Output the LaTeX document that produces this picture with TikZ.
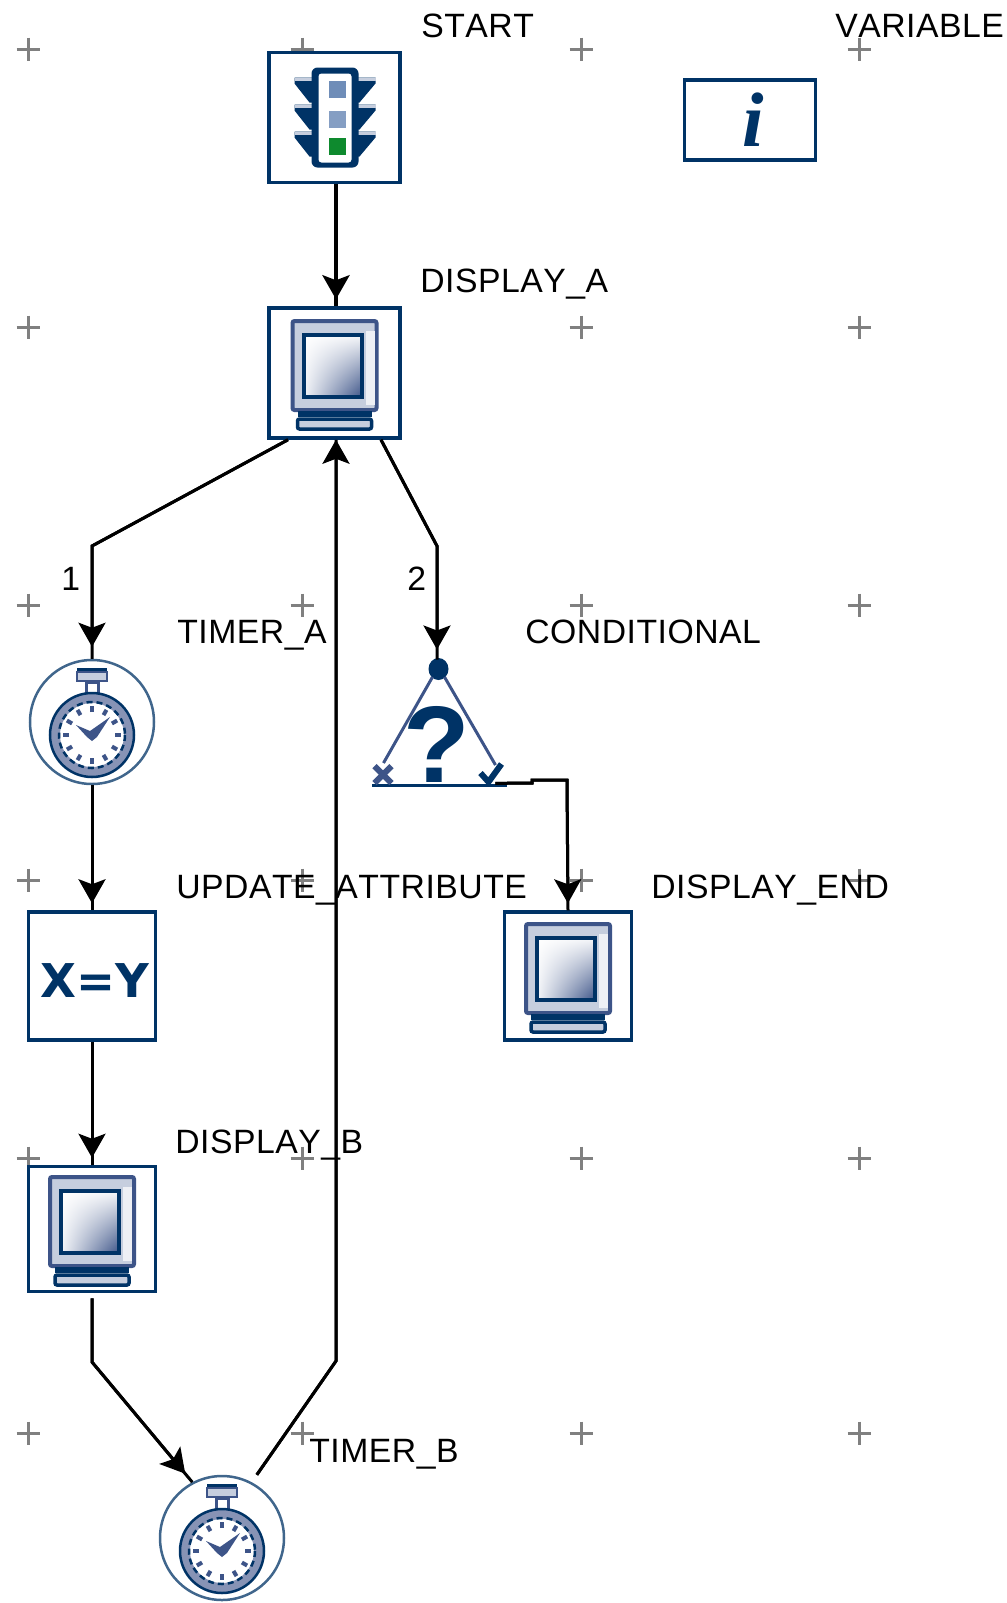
\documentclass[tikz,border=0pt]{standalone}
\usepackage{fontspec}
\setmainfont[LetterSpace=1.5,Kerning=Off]{Liberation Sans}
\newfontfamily\wideface{DejaVu Sans}
\newfontfamily\iface{Liberation Serif}
\usetikzlibrary{arrows.meta,shadings}
\def\pxu{0.02cm}
\definecolor{navy}{HTML}{003366}
\definecolor{slateblue}{HTML}{3D5488}
\definecolor{hazeblue}{HTML}{C6CEDE}
\definecolor{steelring}{HTML}{8793B5}
\definecolor{gridgray}{HTML}{808080}
\definecolor{lampblue}{HTML}{6F8DB8}
\definecolor{lampgreen}{HTML}{0E8A2E}
\tikzset{
  iconbox/.style={draw=navy,fill=white,line width=3.5*\pxu,minimum width=127*\pxu,minimum height=128*\pxu,inner sep=0pt},
  timerdisc/.style={circle,draw=navy!75,fill=white,line width=2.5*\pxu,minimum size=124*\pxu,inner sep=0pt},
  tag/.style={anchor=base west,inner sep=0pt,font=\fontsize{19.2}{20}\selectfont},
  gridplus/.style={gridgray,line width=3*\pxu},
  plainlink/.style={line width=3*\pxu},
  link/.style={plainlink,postaction={draw,-{Stealth[length=24*\pxu,width=27*\pxu,inset=5*\pxu]},shorten >=#1*\pxu}},
  link/.default=7,
  pics/monitor/.style={code={
    \draw[slateblue,fill=hazeblue,line width=4*\pxu,rounded corners=2*\pxu] (-42,-52) rectangle (42,37);
    \fill[white!70!hazeblue] (31,-42) rectangle (40,32);
    \shade[upper left=white,upper right=white!85!hazeblue,lower left=white!80!hazeblue,lower right=slateblue]
      (-31,-38) rectangle (27,24);
    \draw[navy,line width=4*\pxu] (-31,-38) rectangle (27,24);
    \fill[navy] (-37,38) rectangle (37,44);
    \draw[navy,fill=hazeblue,line width=3.5*\pxu,rounded corners=2*\pxu] (-37,46) rectangle (37,56);
  }},
  pics/signal/.style={code={
    \foreach \vy in {-40,-13,14}{
      \fill[navy] (-40,\vy) -- (-17,\vy) -- (-17,\vy+25) -- (-25,\vy+25) -- (-40,\vy+6) -- cycle;
      \fill[navy] (41,\vy) -- (17,\vy) -- (17,\vy+25) -- (25,\vy+25) -- (41,\vy+6) -- cycle;
      \fill[hazeblue] (-40,\vy) rectangle (-18,\vy+3);
      \fill[hazeblue] (41,\vy) rectangle (18,\vy+3);
    }
    \fill[navy,rounded corners=6*\pxu] (-23,-50) rectangle (24,50);
    \fill[white,rounded corners=3*\pxu] (-16,-44) rectangle (17,45);
    \fill[lampblue] (-6,-37) rectangle (11,-20);
    \fill[lampblue!85] (-6,-7) rectangle (11,10);
    \fill[lampgreen] (-6,20) rectangle (11,37);
  }},
  pics/stopwatch/.style={code={
    \fill[navy] (-15,-54) rectangle (15,-50);
    \fill[hazeblue] (-15,-50) rectangle (15,-41);
    \draw[slateblue,line width=2*\pxu] (-15,-50) rectangle (15,-41);
    \draw[slateblue,line width=3*\pxu] (-6,-40) rectangle (6,-28);
    \draw[steelring,line width=10*\pxu,fill=white] (0,13) circle[radius=37];
    \draw[navy,line width=2.5*\pxu] (0,13) circle[radius=42];
    \draw[navy,line width=2.5*\pxu,dash pattern=on 6*\pxu off 4*\pxu] (0,13) circle[radius=33];
    \foreach \ang in {0,30,...,330}{
      \draw[slateblue,line width=4*\pxu] ([shift={(\ang:23)}]0,13) -- ([shift={(\ang:29)}]0,13);
    }
    \fill[slateblue] (-16,3) -- (-2,9) -- (18,-5) -- (5,15) -- (0,19) -- (-5,15) -- cycle;
  }},
  pics/query/.style={code={
    \fill[navy] (0,-54) ellipse[x radius=10,y radius=11];
    \draw[slateblue,line width=3*\pxu] (-6,-46) -- (-55,40);
    \draw[slateblue,line width=3*\pxu] (6,-46) -- (57,42);
    \fill[navy] (-67,61) rectangle (68,64);
    \draw[slateblue,line width=6*\pxu] (-64,43) -- (-47,60);
    \draw[slateblue,line width=6*\pxu] (-47,43) -- (-64,60);
    \draw[navy,line width=6*\pxu] (42,50) -- (50,59) -- (63,41);
  }},
}
\begin{document}
\begin{tikzpicture}[x=\pxu,y=-\pxu]
  \useasboundingbox (0,0) rectangle (1007,1603);

  \foreach \gx in {28,302,581,859}{
    \foreach \gy in {49,327,605,880,1158,1433}{
      \draw[gridplus] (\gx-11.5,\gy) -- (\gx+11.5,\gy);
      \draw[gridplus] (\gx,\gy-11.5) -- (\gx,\gy+11.5);
    }
  }

  \node[iconbox,minimum width=131*\pxu,minimum height=130*\pxu] (start) at (334.5,117.5) {};
  \node[iconbox,minimum width=131*\pxu,minimum height=80*\pxu] (variable) at (750,120) {};
  \node[iconbox,minimum width=131*\pxu,minimum height=130*\pxu] (displayA) at (334.5,373) {};
  \node[timerdisc] (timerA) at (92,722) {};
  \node[minimum width=135*\pxu,minimum height=126*\pxu,inner sep=0pt] (conditional) at (438.5,723) {};
  \node[iconbox] (update) at (92,976) {};
  \node[iconbox] (displayEnd) at (568,976) {};
  \node[iconbox,minimum height=125*\pxu] (displayB) at (92,1229) {};
  \node[timerdisc] (timerB) at (222,1538) {};

  \pic at (start) {signal};
  \pic at (displayA) {monitor};
  \pic at (displayEnd) {monitor};
  \pic at (displayB) {monitor};
  \pic at (timerA) {stopwatch};
  \pic at (timerB) {stopwatch};
  \pic at (conditional) {query};

  \node[inner sep=0pt,text=navy,font=\iface\bfseries\itshape\fontsize{44}{44}\selectfont] (infoMark) at (753,120) {i};
  \node[inner sep=0pt,text=navy,font=\wideface\bfseries\fontsize{26.5}{28}\selectfont] (assignMark) at (95,981) {X=Y};
  \node[inner sep=0pt,text=navy,font=\bfseries\fontsize{62}{62}\selectfont] (queryMark) at (437,744) {?};

  \coordinate (bendA) at (92,546);
  \coordinate (bendC) at (437,546);
  \coordinate (bendD) at (92,1362);
  \coordinate (bendT) at (336,1361);
  \coordinate (stepA) at (532,783);
  \coordinate (stepB) at (532,780);
  \coordinate (stepC) at (567,780);

  \draw[link,line width=4*\pxu] ([xshift=1.5*\pxu]start.south) -- ([xshift=1.5*\pxu]displayA.north);
  \draw[link=12] ([xshift=-46.5*\pxu]displayA.south) -- (bendA) -- (timerA.north);
  \draw[link=10] ([xshift=46.5*\pxu]displayA.south) -- (bendC) -- (437,659.5);
  \draw[link] (timerA.south) -- (update.north);
  \draw[link] (update.south) -- (displayB.north);
  \draw[link=11,shorten <=5*\pxu] (displayB.south) -- (bendD) -- (timerB.118);
  \draw[link=0,shorten <=9*\pxu] (timerB.62) -- (bendT) -- ([xshift=1.5*\pxu]displayA.south);
  \draw[link] ([xshift=-11*\pxu,yshift=3*\pxu]conditional.south east) -- (stepA) -- (stepB) -- (stepC) -- (displayEnd.north);

  \node[tag] (startTag) at (421,37) {START};
  \node[tag] (variableTag) at (835,37) {VARIABLE};
  \node[tag] (displayATag) at (420,292) {DISPLAY\_A};
  \node[tag] (timerATag) at (177,643) {TIMER\_A};
  \node[tag] (conditionalTag) at (525,643) {CONDITIONAL};
  \node[tag] (updateTag) at (176,898) {UPDATE\_ATTRIBUTE};
  \node[tag] (displayEndTag) at (651,898) {DISPLAY\_END};
  \node[tag] (displayBTag) at (175,1153) {DISPLAY\_B};
  \node[tag] (timerBTag) at (309,1462) {TIMER\_B};
  \node[tag] (branchOne) at (61,590) {1};
  \node[tag] (branchTwo) at (407,590) {2};
\end{tikzpicture}
\end{document}
